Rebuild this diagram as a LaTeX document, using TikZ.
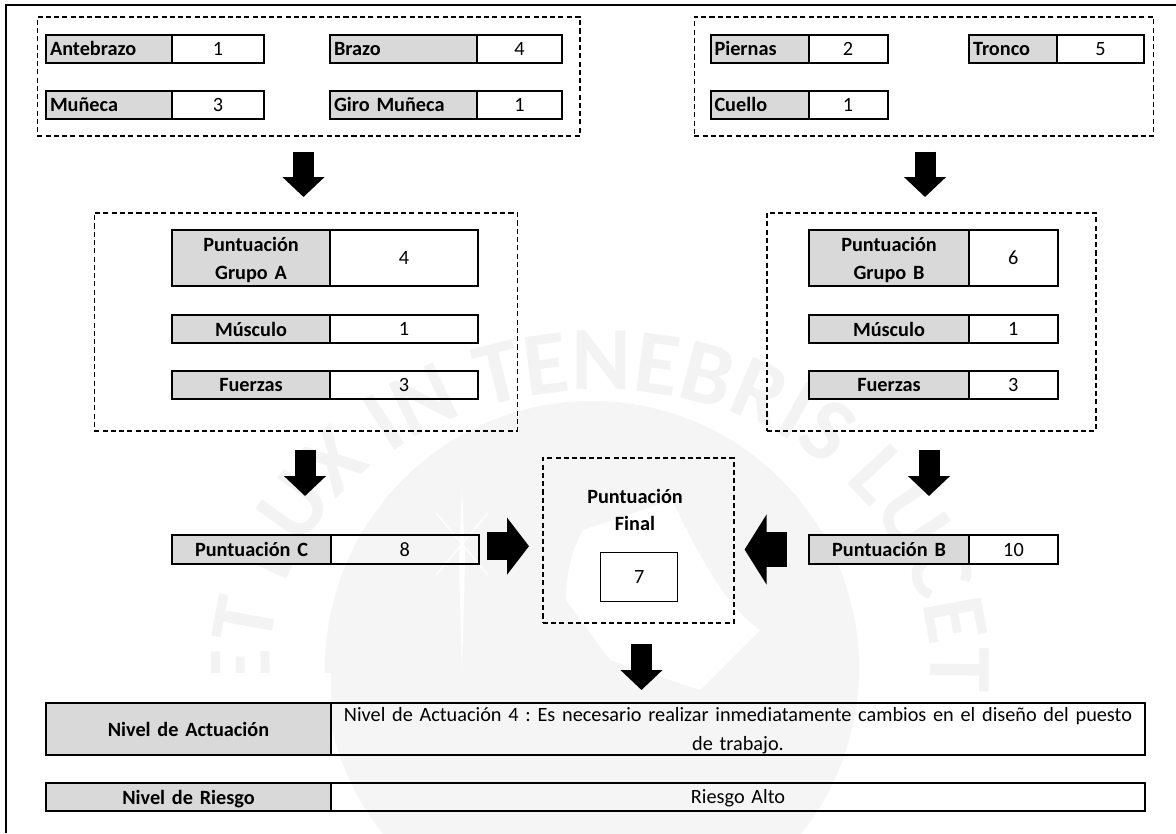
\documentclass[tikz,border=0pt]{standalone}
\usepackage{fontspec}
\setmainfont{Carlito}
\frenchspacing
\usetikzlibrary{arrows.meta,decorations.text}
\definecolor{grisceldas}{HTML}{D9D9D9}
\definecolor{grisfondo}{HTML}{F5F5F5}
\definecolor{grisletra}{HTML}{F3F3F3}
\tikzset{
	etiqueta/.style={draw,line width=1.5pt,fill=grisceldas,anchor=north west,inner xsep=3pt,inner ysep=0pt,font=\bfseries\fontsize{15.2}{21}\selectfont},
	valor/.style={draw,line width=1.5pt,anchor=north west,inner sep=0pt,font=\fontsize{15.2}{21.5}\selectfont},
	marco/.style={draw,line width=1.2pt,dash pattern=on 3.8pt off 2.4pt,anchor=north west,inner sep=0pt},
	flechaV/.style={line width=15.75pt,-{Triangle[length=15pt,width=30.75pt]}},
	flechaH/.style={line width=#1,-{Triangle[length=16.5pt,width=2*#1]}}
}
\newcommand{\fila}[9][center]{
	\node[etiqueta,minimum width={(#4-#3)*0.75pt},minimum height={(#7-#6)*0.75pt},text width={(#4-#3)*0.75pt-6pt},align=#1] (#2a) at (#3,#6) {#8\vspace*{-2.4pt}};
	\node[valor,minimum width={(#5-#4)*0.75pt},minimum height={(#7-#6)*0.75pt},text width={(#5-#4)*0.75pt},align=center] (#2b) at (#4,#6) {#9\vspace*{-2.4pt}};
}
\newcommand{\marcoxy}[5]{
	\node[marco,minimum width={(#3-#2)*0.75pt},minimum height={(#5-#4)*0.75pt}] (#1) at (#2,#4) {};
}
\begin{document}
\begin{tikzpicture}[x=0.75pt,y=-0.75pt]
	\useasboundingbox (0,0) rectangle (1176,833);
	\fill[grisfondo] (592,668) circle[radius=267];
	\path[decorate,decoration={text along path,text align={fit to path},text color=grisletra,
	text={|\bfseries\fontsize{68}{68}\selectfont|ET LUX IN TENEBRIS LUCET}}]
	(600,668)++(175:330 and 278) arc[start angle=175,end angle=365,x radius=330,y radius=278];
	\fill[white] (566,600) .. controls (566,565) and (575,545) .. (583,530) -- (672,500)
	.. controls (700,560) and (730,610) .. (760,630) -- (700,690) -- (610,660) -- cycle;
	\fill[white] (462,487)--(465,560)--(462,673)--(459,560)--cycle;
	\draw[white,line width=1pt] (436,513)--(488,575) (488,513)--(436,575);
	\fill[white] (7,673) rectangle (331,833);
	\draw[line width=1.8pt] (6,833)--(6,5)--(1176,5);

	\marcoxy{marcoI}{36.5}{579}{16}{135}
	\marcoxy{marcoD}{693.5}{1152.5}{16}{135}
	\marcoxy{marcoA}{93.5}{516.5}{212}{430}
	\marcoxy{marcoB}{766}{1095}{212}{430}
	\marcoxy{marcoF}{542}{733}{457}{622}

	\fila[left]{ante}{45}{171}{263}{33.5}{62}{Antebrazo}{1}
	\fila[left]{muneca}{45}{171}{263}{89.5}{118}{Muñeca}{3}
	\fila[left]{brazo}{329}{476}{561}{33.5}{62}{Brazo}{4}
	\fila[left]{giro}{329}{476}{561}{89.5}{118}{Giro Muñeca}{1}
	\fila[left]{piernas}{709.5}{807.5}{886.5}{33.5}{62}{Piernas}{2}
	\fila[left]{cuello}{709.5}{807.5}{886.5}{89.5}{118}{Cuello}{1}
	\fila[left]{tronco}{968}{1056}{1143}{33.5}{62}{Tronco}{5}

	\fila{grupoA}{171}{329}{477}{229}{285}{Puntuación\\Grupo A}{4}
	\fila{musculoA}{171}{329}{477}{314}{342}{Músculo}{1}
	\fila{fuerzasA}{171}{329}{477}{370}{398}{Fuerzas}{3}
	\fila{grupoB}{808}{968}{1056.5}{229}{285}{Puntuación\\Grupo B}{6}
	\fila{musculoB}{808}{968}{1056.5}{314}{342}{Músculo}{1}
	\fila{fuerzasB}{808}{968}{1056.5}{370}{398}{Fuerzas}{3}

	\fila{puntC}{171}{330}{477.5}{534}{563}{Puntuación C}{8}
	\fila{puntB}{808}{968}{1057}{534}{563}{Puntuación B}{10}

	\node[font=\bfseries\fontsize{15.2}{20.5}\selectfont,align=center] (final) at (635,510) {Puntuación\\Final};
	\node[valor,line width=1.1pt,minimum width=57.75pt,minimum height=36.75pt] (siete) at (600,552) {7};

	\fila{actua}{45}{330}{1144}{702}{754}{Nivel de Actuación}{Nivel de Actuación 4 : Es necesario realizar inmediatamente cambios en el diseño del puesto\\de trabajo.}
	\fila{riesgo}{45}{330}{1144}{782}{810}{Nivel de Riesgo}{Riesgo Alto}

	\coordinate (ejeI) at (303.5,0);
	\coordinate (ejeA) at (305,0);
	\coordinate (ejeD) at (925,0);
	\coordinate (ejeB) at (929,0);
	\coordinate (ejeF) at (641.5,0);
	\draw[flechaV,shorten <=11.25pt,shorten >=11.25pt] (marcoI.south -| ejeI)--(marcoA.north -| ejeI);
	\draw[flechaV,shorten <=11.25pt,shorten >=11.25pt] (marcoD.south -| ejeD)--(marcoB.north -| ejeD);
	\draw[flechaV,shorten <=13.5pt,shorten >=28.5pt] (marcoA.south -| ejeA)--(puntCa.north -| ejeA);
	\draw[flechaV,shorten <=13.5pt,shorten >=28.5pt] (marcoB.south -| ejeB)--(puntBa.north -| ejeB);
	\draw[flechaV,shorten <=15pt,shorten >=9pt] (marcoF.south -| ejeF)--(actuaa.north -| ejeF);
	\draw[flechaH=21pt,shorten <=5.5pt,shorten >=9.75pt] ([yshift=2.5pt]puntCb.east)--([yshift=2.5pt]puntCb.east -| marcoF.west);
	\draw[flechaH=26pt,shorten <=16pt,shorten >=7.5pt] (puntBa.west)--(puntBa.west -| marcoF.east);
\end{tikzpicture}
\end{document}
